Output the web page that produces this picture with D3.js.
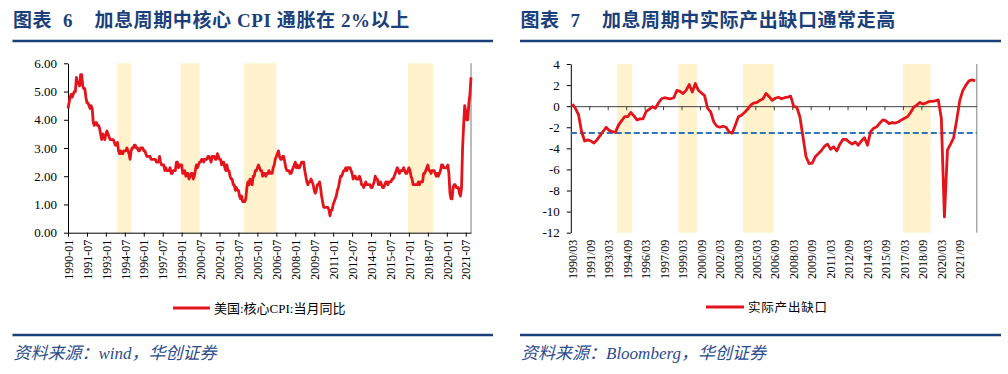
<!DOCTYPE html>
<html>
<head>
<meta charset="utf-8">
<script src="https://cdn.jsdelivr.net/npm/d3@7"></script>
<style>
  body { margin: 0; background: #fff; }
  svg { display: block; }
  text { white-space: pre; }
</style>
</head>
<body>
<div id="chart"></div>
<script>
// ---- data: left chart, US core CPI y/y, monthly 1990-01 .. 2021-12
var cpiStart = "1990-01";
var coreCpi = [
  4.4,4.6,4.8,4.9,4.8,4.9,5.0,5.0,5.5,5.3,5.3,5.2,   // 1990
  5.6,5.6,5.2,5.1,5.1,4.8,4.6,4.6,4.5,4.4,4.5,4.4,   // 1991
  3.9,3.8,3.9,3.9,3.8,3.8,3.7,3.5,3.3,3.5,3.4,3.3,
  3.5,3.6,3.5,3.4,3.3,3.3,3.3,3.3,3.2,3.1,3.1,3.2,
  2.9,2.8,2.9,2.8,2.8,2.9,2.9,2.9,3.0,2.9,2.8,2.6,
  2.9,3.0,3.0,3.1,3.1,3.0,3.0,2.9,2.9,3.0,3.0,3.0,   // 1995
  2.9,2.9,2.8,2.7,2.7,2.7,2.7,2.6,2.6,2.6,2.6,2.6,
  2.5,2.5,2.5,2.7,2.5,2.4,2.4,2.4,2.2,2.3,2.2,2.2,
  2.2,2.3,2.1,2.1,2.2,2.2,2.2,2.5,2.5,2.3,2.4,2.4,
  2.4,2.1,2.1,2.2,2.0,2.1,2.1,1.9,2.0,2.1,2.1,1.9,
  2.0,2.2,2.4,2.3,2.4,2.5,2.5,2.6,2.6,2.5,2.6,2.6,   // 2000
  2.6,2.7,2.7,2.6,2.5,2.7,2.7,2.7,2.6,2.6,2.8,2.7,
  2.6,2.6,2.4,2.5,2.5,2.3,2.2,2.4,2.2,2.2,2.0,1.9,
  1.9,1.7,1.7,1.5,1.6,1.5,1.5,1.3,1.2,1.3,1.1,1.1,
  1.1,1.2,1.6,1.8,1.7,1.9,1.8,1.7,2.0,2.0,2.2,2.2,
  2.3,2.4,2.3,2.2,2.2,2.0,2.1,2.1,2.0,2.1,2.1,2.2,   // 2005
  2.1,2.1,2.1,2.3,2.4,2.6,2.7,2.8,2.9,2.7,2.6,2.6,
  2.7,2.7,2.5,2.3,2.2,2.2,2.2,2.1,2.1,2.2,2.3,2.4,
  2.5,2.3,2.4,2.3,2.3,2.4,2.5,2.5,2.5,2.2,2.0,1.8,
  1.7,1.8,1.8,1.9,1.8,1.7,1.5,1.4,1.5,1.7,1.7,1.8,
  1.6,1.3,1.1,0.9,0.9,0.9,0.9,0.9,0.8,0.6,0.8,0.8,   // 2010
  1.0,1.1,1.2,1.3,1.5,1.6,1.8,2.0,2.0,2.1,2.2,2.2,
  2.3,2.2,2.3,2.3,2.3,2.2,2.1,1.9,2.0,2.0,1.9,1.9,
  1.9,2.0,1.9,1.7,1.7,1.6,1.7,1.8,1.7,1.7,1.7,1.7,
  1.6,1.6,1.7,1.8,2.0,1.9,1.9,1.7,1.7,1.8,1.7,1.6,
  1.6,1.7,1.8,1.8,1.7,1.8,1.8,1.8,1.9,1.9,2.0,2.1,   // 2015
  2.2,2.3,2.2,2.1,2.2,2.2,2.2,2.3,2.2,2.1,2.1,2.2,
  2.3,2.2,2.0,1.9,1.7,1.7,1.7,1.7,1.7,1.8,1.7,1.8,
  1.8,1.8,2.1,2.1,2.2,2.3,2.4,2.2,2.2,2.1,2.2,2.2,
  2.2,2.1,2.0,2.1,2.0,2.1,2.2,2.4,2.4,2.3,2.3,2.3,
  2.3,2.4,2.1,1.4,1.2,1.2,1.6,1.7,1.7,1.6,1.6,1.6,   // 2020
  1.4,1.3,1.6,3.0,3.8,4.5,4.3,4.0,4.0,4.6,4.9,5.5
];
var cpiTicks = ["1990-01","1991-07","1993-01","1994-07","1996-01","1997-07","1999-01",
  "2000-07","2002-01","2003-07","2005-01","2006-07","2008-01","2009-07","2011-01",
  "2012-07","2014-01","2015-07","2017-01","2018-07","2020-01","2021-07"];
var cpiYTicks = [0, 1, 2, 3, 4, 5, 6];
// hiking periods (shaded), first and last month
var cpiBands = [["1993-12","1995-01"],["1998-12","2000-06"],["2003-12","2006-07"],["2016-12","2018-12"]];

// ---- data: right chart, output gap, quarterly 1990/03 .. 2022/12
var gapStart = "1990/03";
var outputGap = [
  0.2,-0.2,-0.8,-2.4,  -3.3,-3.2,-3.3,-3.5,  -3.2,-2.8,-2.4,-2.0,  -2.3,-2.4,-2.5,-1.8,   // 1990-93
  -1.4,-1.0,-1.0,-0.6,  -0.9,-1.3,-1.2,-1.2,  -0.5,-0.3,-0.05,-0.2,  0.3,0.7,0.8,0.75,  // 1994-97
  0.7,0.8,1.5,1.4,  1.2,1.5,2.05,1.35,  2.15,1.5,1.25,1.0,  -0.2,-0.55,-1.5,-1.9,        // 1998-01
  -2.0,-1.9,-2.0,-2.45,  -2.55,-1.8,-1.0,-0.85,  -0.6,-0.3,0.1,0.3,  0.35,0.55,0.7,1.2,  // 2002-05
  0.9,0.55,0.75,0.85,  0.7,0.8,0.85,0.95,  -0.05,-0.1,-1.0,-2.9,  -4.8,-5.45,-5.4,-4.8,  // 2006-09
  -4.5,-4.2,-3.8,-3.6,  -4.1,-3.85,-4.25,-3.6,  -3.15,-3.15,-3.4,-3.6,  -3.4,-3.7,-3.3,-3.0, // 2010-13
  -3.7,-2.4,-2.1,-1.95,  -1.6,-1.3,-1.4,-1.65,  -1.55,-1.6,-1.5,-1.3,  -1.15,-1.0,-0.6,-0.1, // 2014-17
  0.1,0.35,0.2,0.3,  0.45,0.45,0.5,0.6,  -1.15,-10.5,-4.15,-3.6,  -3.0,-1.3,0.55,1.5,     // 2018-21
  2.0,2.4,2.5,2.4                                                                         // 2022
];
var gapTicks = ["1990/03","1991/09","1993/03","1994/09","1996/03","1997/09","1999/03",
  "2000/09","2002/03","2003/09","2005/03","2006/09","2008/03","2009/09","2011/03",
  "2012/09","2014/03","2015/09","2017/03","2018/09","2020/03","2021/09"];
var gapYTicks = [-12, -10, -8, -6, -4, -2, 0, 2, 4];
var gapMean = -2.55;
var gapBands = [["1993/12","1994/12"],["1998/12","2000/03"],["2004/03","2006/06"],["2017/03","2019/03"]];

// ---- styles
var red = "#E3141B";
var band = "#FFF2CC";
var navy = "#1B3F7A";
var serif = "'Liberation Serif', 'Times New Roman', 'Noto Sans CJK SC', serif";
var cjk = "'Liberation Serif', 'Noto Sans CJK SC', sans-serif";

function monthIndex(s, start) {
  var a = s.split("-"), b = start.split("-");
  return (+a[0] - +b[0]) * 12 + (+a[1] - +b[1]);
}
function quarterIndex(s, start) {
  var a = s.split("/"), b = start.split("/");
  return (+a[0] - +b[0]) * 4 + (+a[1] - +b[1]) / 3;
}

var svg = d3.select("#chart").append("svg")
  .attr("width", 1008).attr("height", 374);
svg.append("rect").attr("width", 1008).attr("height", 374).attr("fill", "#fff");

// ---- headers / footers
var panels = [
  { x0: 12.5, x1: 493, title: "图表  6    加息周期中核心 CPI 通胀在 2%以上", source: "资料来源：wind，华创证券" },
  { x0: 520, x1: 1001, title: "图表  7    加息周期中实际产出缺口通常走高", source: "资料来源：Bloomberg，华创证券" }
];
panels.forEach(function(p) {
  svg.append("text")
    .attr("x", p.x0 + 0.5).attr("y", 27)
    .style("font-family", cjk).style("font-weight", "bold")
    .style("font-size", "19px").style("fill", navy)
    .style("letter-spacing", "0.6px")
    .text(p.title);
  svg.append("line")
    .attr("x1", p.x0).attr("x2", p.x1).attr("y1", 41).attr("y2", 41)
    .attr("stroke", navy).attr("stroke-width", 2.5);
  svg.append("line")
    .attr("x1", p.x0).attr("x2", p.x1).attr("y1", 335).attr("y2", 335)
    .attr("stroke", navy).attr("stroke-width", 2.5);
  svg.append("text")
    .attr("x", p.x0 + 1).attr("y", 359)
    .style("font-family", cjk).style("font-style", "italic")
    .style("font-size", "17px").style("fill", "#2B4C8C")
    .text(p.source);
});

// =================== left chart ===================
var xL = d3.scaleLinear().domain([0, coreCpi.length - 1]).range([68, 471]);
var yL = d3.scaleLinear().domain([0, 6]).range([232.7, 63.3]);

var gL = svg.append("g");

gL.selectAll("rect.band")
  .data(cpiBands)
  .enter().append("rect")
  .attr("class", "band")
  .attr("x", function(d) { return xL(monthIndex(d[0], cpiStart)); })
  .attr("width", function(d) { return xL(monthIndex(d[1], cpiStart)) - xL(monthIndex(d[0], cpiStart)); })
  .attr("y", yL(6)).attr("height", yL(0) - yL(6))
  .attr("fill", band);

// right border
gL.append("line")
  .attr("x1", xL.range()[1]).attr("x2", xL.range()[1])
  .attr("y1", yL(6)).attr("y2", yL(0))
  .attr("stroke", "#A6A6A6").attr("stroke-width", 1.5);

gL.append("g")
  .attr("transform", "translate(" + xL.range()[0] + ",0)")
  .call(d3.axisLeft(yL).tickValues(cpiYTicks).tickSize(4).tickSizeOuter(0).tickPadding(7)
    .tickFormat(d3.format(".2f")))
  .call(function(g) {
    g.selectAll("text").style("font-family", serif).style("font-size", "13px").attr("fill", "#000");
    g.selectAll("line, path").attr("stroke", "#000");
  });

gL.append("g")
  .attr("transform", "translate(0," + yL(0) + ")")
  .call(d3.axisBottom(xL)
    .tickValues(cpiTicks.map(function(t) { return monthIndex(t, cpiStart); }))
    .tickSize(4).tickSizeOuter(0)
    .tickFormat(function(d, i) { return cpiTicks[i]; }))
  .call(function(g) {
    g.selectAll("line, path").attr("stroke", "#000");
    g.selectAll("text")
      .style("font-family", serif).style("font-size", "12px").attr("fill", "#000")
      .attr("transform", "rotate(-90)")
      .attr("text-anchor", "end")
      .attr("x", -7).attr("y", 0).attr("dy", "0.35em");
  });

gL.append("path")
  .datum(coreCpi)
  .attr("fill", "none").attr("stroke", red).attr("stroke-width", 2.8)
  .attr("stroke-linejoin", "round")
  .attr("d", d3.line().x(function(d, i) { return xL(i); }).y(function(d) { return yL(d); }));

// legend
gL.append("line").attr("x1", 173).attr("x2", 210).attr("y1", 308).attr("y2", 308)
  .attr("stroke", red).attr("stroke-width", 3);
gL.append("text").attr("x", 214).attr("y", 312.5)
  .style("font-family", cjk).style("font-size", "13px").style("fill", "#000")
  .text("美国:核心CPI:当月同比");

// =================== right chart ===================
var xR = d3.scaleLinear().domain([0, outputGap.length]).range([570.8, 976.7]);
var yR = d3.scaleLinear().domain([-12, 4]).range([232.7, 64]);

var gR = svg.append("g");

gR.selectAll("rect.band")
  .data(gapBands)
  .enter().append("rect")
  .attr("class", "band")
  .attr("x", function(d) { return xR(quarterIndex(d[0], gapStart)); })
  .attr("width", function(d) { return xR(quarterIndex(d[1], gapStart) + 1) - xR(quarterIndex(d[0], gapStart)); })
  .attr("y", yR(4)).attr("height", yR(-12) - yR(4))
  .attr("fill", band);

gR.append("line")
  .attr("x1", xR.range()[1]).attr("x2", xR.range()[1])
  .attr("y1", yR(4)).attr("y2", yR(-12))
  .attr("stroke", "#A6A6A6").attr("stroke-width", 1.5);

gR.append("g")
  .attr("transform", "translate(" + xR.range()[0] + ",0)")
  .call(d3.axisLeft(yR).tickValues(gapYTicks).tickSize(4).tickSizeOuter(0).tickPadding(7)
    .tickFormat(function(d) { return String(d); }))
  .call(function(g) {
    g.selectAll("text").style("font-family", serif).style("font-size", "13px").attr("fill", "#000");
    g.selectAll("line, path").attr("stroke", "#000");
  });

// zero line with category ticks
gR.append("g")
  .attr("transform", "translate(0," + yR(0) + ")")
  .call(d3.axisBottom(xR)
    .tickValues(gapTicks.slice(1).map(function(t) { return quarterIndex(t, gapStart); }))
    .tickSize(4).tickSizeOuter(0).tickFormat(""))
  .call(function(g) {
    g.selectAll("line, path").attr("stroke", "#404040");
  });

// mean line
gR.append("line")
  .attr("x1", xR.range()[0]).attr("x2", xR.range()[1])
  .attr("y1", yR(gapMean)).attr("y2", yR(gapMean))
  .attr("stroke", "#2E75B6").attr("stroke-width", 2).attr("stroke-dasharray", "6,3");

// category labels
gR.selectAll("text.xlab")
  .data(gapTicks)
  .enter().append("text")
  .attr("class", "xlab")
  .attr("transform", function(d) {
    return "translate(" + xR(quarterIndex(d, gapStart) + 0.5) + "," + (yR(-12) + 7) + ") rotate(-90)";
  })
  .attr("text-anchor", "end").attr("dy", "0.35em")
  .style("font-family", serif).style("font-size", "12px").style("fill", "#000")
  .text(function(d) { return d; });

gR.append("path")
  .datum(outputGap)
  .attr("fill", "none").attr("stroke", red).attr("stroke-width", 2.8)
  .attr("stroke-linejoin", "round")
  .attr("d", d3.line().x(function(d, i) { return xR(i + 0.5); }).y(function(d) { return yR(d); }));

gR.append("line").attr("x1", 706).attr("x2", 744).attr("y1", 307).attr("y2", 307)
  .attr("stroke", red).attr("stroke-width", 3);
gR.append("text").attr("x", 748).attr("y", 311.5)
  .style("font-family", cjk).style("font-size", "12.5px").style("fill", "#000")
  .style("letter-spacing", "0.8px")
  .text("实际产出缺口");
</script>
</body>
</html>
